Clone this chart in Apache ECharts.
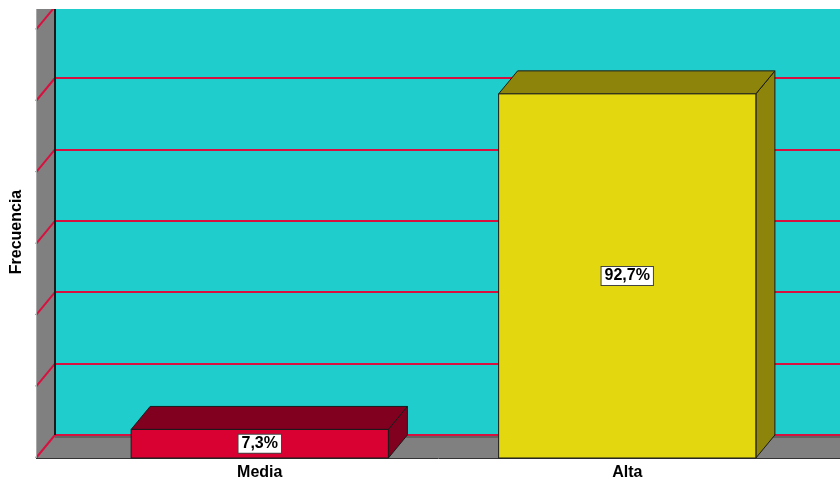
<!DOCTYPE html>
<html>
<head>
<meta charset="utf-8">
<script src="https://cdn.jsdelivr.net/npm/echarts@6/dist/echarts.min.js"></script>
<style>
  html, body { margin: 0; padding: 0; background: #ffffff; }
  #chart { width: 840px; height: 481px; }
</style>
</head>
<body>
<div id="chart"></div>
<script>
// Frequency of each level (n = 55)
const categories = ['Media', 'Alta'];
const frequencies = [4, 51];
const gridTicks = [0, 10, 20, 30, 40, 50, 60];
const axisTitle = 'Frecuencia';

const total = frequencies.reduce((a, b) => a + b, 0);
const pctLabel = f => (f / total * 100).toFixed(1).replace('.', ',') + '%';

// 3D depth offset of the chart box (px)
const DX = 19, DY = -23;
const FONT = 'Liberation Sans, Arial, sans-serif';
const WALL = '#1ecdcc';
const GRID_RED = '#d8103f';
const GRAY = '#808080';
const EDGE = '#1a1a1a';
const barColors = [
  { front: '#d90032', shade: '#82001f' },
  { front: '#e3d710', shade: '#8c840b' }
];

const chart = echarts.init(document.getElementById('chart'), null, { renderer: 'canvas' });

// Left wall, floor and the wall's diagonal gridlines
function renderFrame(params, api) {
  const cs = params.coordSys;
  const xFront = cs.x - 40;
  const xBack = xFront + DX;
  const yFloor = api.coord([0, 0])[1];
  const yFloorBack = yFloor + DY;
  const right = 900;
  const children = [];
  children.push({ type: 'polygon', shape: { points: [[xFront, 0], [xBack, 0], [xBack, yFloorBack], [xFront, yFloor]] }, style: { fill: GRAY } });
  children.push({ type: 'polygon', shape: { points: [[xFront, yFloor], [xBack, yFloorBack + 1], [right, yFloorBack + 1], [right, yFloor]] }, style: { fill: GRAY } });
  children.push({ type: 'line', shape: { x1: xBack, y1: yFloorBack + 2, x2: right, y2: yFloorBack + 2 }, style: { stroke: '#444', lineWidth: 1 } });
  gridTicks.forEach(v => {
    const y = api.coord([0, v])[1];
    children.push({ type: 'line', shape: { x1: xFront, y1: y, x2: xBack, y2: y + DY }, style: { stroke: GRID_RED, lineWidth: 2 } });
  });
  children.push({ type: 'line', shape: { x1: xBack, y1: 0, x2: xBack, y2: yFloorBack }, style: { stroke: EDGE, lineWidth: 2 } });
  children.push({ type: 'line', shape: { x1: xFront + 0.5, y1: 0, x2: xFront + 0.5, y2: yFloor }, style: { stroke: '#a8a8a8', lineWidth: 1 } });
  children.push({ type: 'line', shape: { x1: xFront, y1: yFloor + 0.5, x2: right, y2: yFloor + 0.5 }, style: { stroke: '#333', lineWidth: 1 } });
  return { type: 'group', children };
}

// Extruded bars with a value box on the front face
function renderBar(params, api) {
  const idx = api.value(0);
  const v = api.value(1);
  const base = api.coord([idx, 0]);
  const top = api.coord([idx, v]);
  const bw = api.size([1, 0])[0] * 0.7;
  const x0 = base[0] - bw / 2, x1 = base[0] + bw / 2;
  const yb = base[1], yt = top[1];
  const c = barColors[idx];
  const edge = { stroke: EDGE, lineWidth: 1 };
  return {
    type: 'group',
    children: [
      { type: 'polygon', shape: { points: [[x1, yt], [x1 + DX, yt + DY], [x1 + DX, yb + DY], [x1, yb]] }, style: Object.assign({ fill: c.shade }, edge) },
      { type: 'polygon', shape: { points: [[x0, yt], [x0 + DX, yt + DY], [x1 + DX, yt + DY], [x1, yt]] }, style: Object.assign({ fill: c.shade }, edge) },
      { type: 'rect', shape: { x: x0, y: yt, width: bw, height: yb - yt }, style: Object.assign({ fill: c.front }, edge) },
      {
        type: 'text', x: base[0], y: (yt + yb) / 2,
        style: {
          text: pctLabel(v), fill: '#000', font: 'bold 16px ' + FONT,
          align: 'center', verticalAlign: 'middle',
          backgroundColor: '#ffffff', borderColor: '#444', borderWidth: 1, padding: [1, 3]
        }
      }
    ]
  };
}

const option = {
  animation: false,
  backgroundColor: '#ffffff',
  grid: [
    // back wall
    { left: 55, right: -60, top: 6.6, bottom: 46, show: true, backgroundColor: WALL, borderWidth: 0 },
    // front plane
    { left: 76, right: 29, top: 29.6, bottom: 23 }
  ],
  xAxis: [
    { gridIndex: 0, type: 'value', show: false, min: 0, max: 1 },
    {
      gridIndex: 1, type: 'category', data: categories,
      axisLine: { show: false }, axisTick: { show: false },
      axisLabel: { color: '#000', fontWeight: 'bold', fontSize: 16, fontFamily: FONT, margin: 7 }
    }
  ],
  yAxis: [
    {
      gridIndex: 0, type: 'value', min: 0, max: 60, interval: 10,
      axisLine: { show: false }, axisTick: { show: false }, axisLabel: { show: false },
      splitLine: { show: true, lineStyle: { color: GRID_RED, width: 2 } }
    },
    { gridIndex: 1, type: 'value', min: 0, max: 60, interval: 10, show: false, splitLine: { show: false } }
  ],
  graphic: [
    { type: 'rect', shape: { x: 0, y: 0, width: 840, height: 9 }, style: { fill: '#ffffff' }, z: 100 },
    {
      type: 'text', x: 17, y: 232, rotation: Math.PI / 2,
      style: { text: axisTitle, fill: '#000', font: 'bold 16px ' + FONT, align: 'center', verticalAlign: 'middle' },
      z: 100
    }
  ],
  series: [
    { type: 'custom', xAxisIndex: 1, yAxisIndex: 1, data: [[0, 0]], renderItem: renderFrame, z: 1, silent: true },
    {
      type: 'custom', xAxisIndex: 1, yAxisIndex: 1, z: 2,
      encode: { x: 0, y: 1 },
      data: categories.map((c, i) => [i, frequencies[i]]),
      renderItem: renderBar
    }
  ]
};

chart.setOption(option);
</script>
</body>
</html>
